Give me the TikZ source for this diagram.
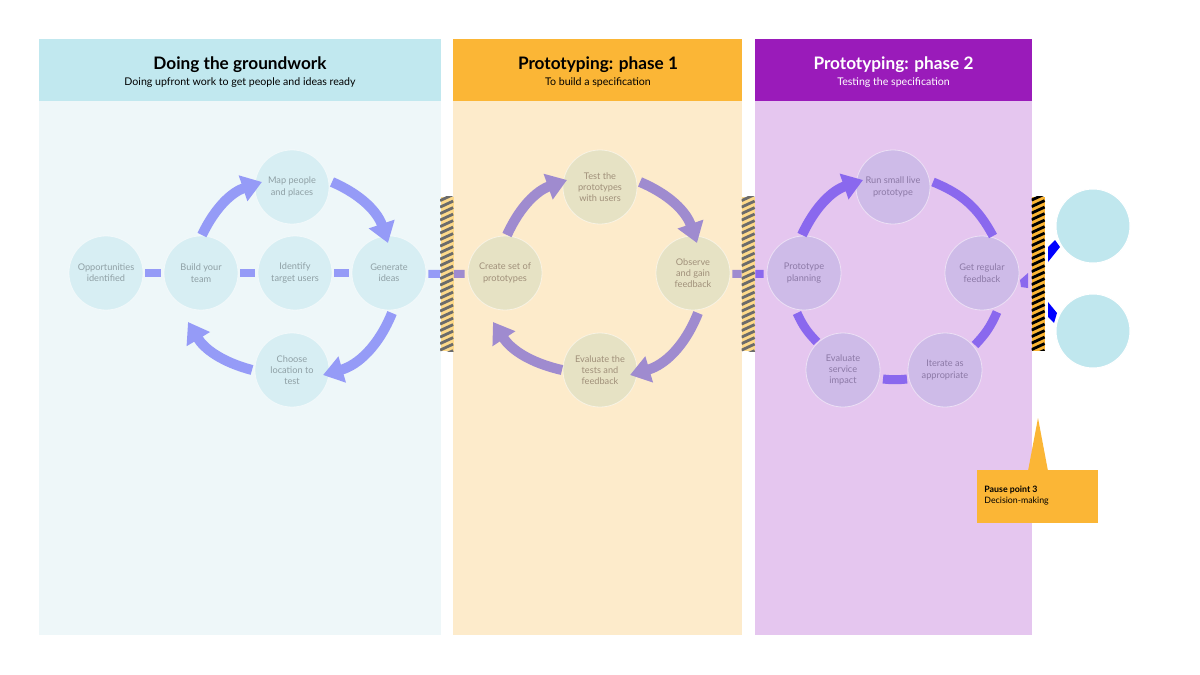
\documentclass[tikz,border=0pt]{standalone}
\usepackage{fontspec}
\setmainfont{Lato}
\usetikzlibrary{arrows.meta,calc}
\definecolor{hdA}{HTML}{C1E8EF}
\definecolor{bdA}{HTML}{EEF7F9}
\definecolor{ciA}{HTML}{D7EEF3}
\definecolor{txA}{HTML}{8FA0A5}
\definecolor{arA}{HTML}{959BF7}
\definecolor{hdB}{HTML}{FBB636}
\definecolor{bdB}{HTML}{FDEBCB}
\definecolor{ciB}{HTML}{E6E2C4}
\definecolor{txB}{HTML}{A0907A}
\definecolor{arB}{HTML}{9F8BCF}
\definecolor{hdC}{HTML}{9A1BBA}
\definecolor{bdC}{HTML}{E5C6EF}
\definecolor{ciC}{HTML}{CEBBE8}
\definecolor{txC}{HTML}{8C79A6}
\definecolor{arC}{HTML}{8A68EE}
\definecolor{hatchY}{HTML}{FDD98A}
\definecolor{hatchG}{HTML}{6B6B6B}
\definecolor{hatchO}{HTML}{FBB535}
\definecolor{rcirc}{HTML}{C0E7EE}
\definecolor{pureblue}{HTML}{0000FF}
\begin{document}
\begin{tikzpicture}[x=0.5pt,y=-0.5pt,
  circ/.style={circle, minimum size=37pt, inner sep=0pt, align=center, draw=white, draw opacity=0.5, line width=0.4pt, font=\fontsize{4.6}{5.65}\selectfont},
  cA/.style={circ, fill=ciA, text=txA},
  cB/.style={circ, fill=ciB, text=txB},
  cC/.style={circ, fill=ciC, text=txC},
  barline/.style={line width=4pt, shorten <=1pt, shorten >=1.5pt},
  arrline/.style={line width=5pt, -{Triangle[length=10pt,width=13pt]}},
  plainarc/.style={line width=4.5pt},
  title/.style={anchor=base, font=\fontsize{8.6}{10}\selectfont\bfseries},
  subtitle/.style={anchor=base, font=\fontsize{5.3}{6}\selectfont},
  hatchbox/.style={rectangle, inner sep=0pt, minimum width=6.5pt, minimum height=77pt},
]
\useasboundingbox (0,0) rectangle (1200,675);
\fill[white] (0,0) rectangle (1200,675);

% panels
\fill[bdA] (39,101) rectangle (441,635);
\fill[hdA] (39,39) rectangle (441,101);
\fill[bdB] (453,101) rectangle (742,635);
\fill[hdB] (453,39) rectangle (742,101);
\fill[bdC] (755,101) rectangle (1032,635);
\fill[hdC] (755,39) rectangle (1032,101);

\node[title] (tA) at (240,69) {Doing the groundwork};
\node[subtitle] (sA) at (240,85) {Doing upfront work to get people and ideas ready};
\node[title] (tB) at (598,69) {Prototyping: phase 1};
\node[subtitle] (sB) at (598,85) {To build a specification};
\node[title, text=white] (tC) at (893.5,69) {Prototyping: phase 2};
\node[subtitle, text=white] (sC) at (893.5,85) {Testing the specification};

% panel 1 circles
\node[cA] (opp) at (106,273) {Opportunities\\identified};
\node[cA] (build) at (201,273) {Build your\\team};
\node[cA] (ident) at (295,273) {Identify\\target users};
\node[cA] (gen) at (389,273) {Generate\\ideas};
\node[cA] (map) at (292,187) {Map people\\and places};
\node[cA] (choose) at (292,370) {Choose\\location to\\test};

% panel 2 circles
\node[cB] (create) at (505,273) {Create set of\\prototypes};
\node[cB] (test) at (600,187) {Test the\\prototypes\\with users};
\node[cB] (obs) at (693,273) {Observe\\and gain\\feedback};
\node[cB] (evalt) at (600,370) {Evaluate the\\tests and\\feedback};

% panel 3 circles
\node[cC] (plan) at (804,273) {Prototype\\planning};
\node[cC] (run) at (893,187) {Run small live\\prototype};
\node[cC] (getfb) at (982,273) {Get regular\\feedback};
\node[cC] (iter) at (945,370) {Iterate as\\appropriate};
\node[cC] (evals) at (843,370) {Evaluate\\service\\impact};

% hatched bars (nodes)
\node[hatchbox, fill=hatchY] (hA) at (447,274) {};
\node[hatchbox, fill=hatchY] (hB) at (748.5,274) {};
\node[hatchbox, fill=hatchO] (hC) at (1038.5,273.5) {};

% straight connectors
\draw[barline, arA] (opp) -- (build);
\draw[barline, arA] (build) -- (ident);
\draw[barline, arA] (ident) -- (gen);
\draw[barline, arA, shorten >=0pt] (gen) -- (hA.west);
\draw[barline, arB, shorten <=0pt] (hA.east) -- (create);
\draw[barline, arB, shorten >=0pt] (obs) -- (hB.west);
\draw[barline, arC, shorten <=0pt] (hB.east) -- (plan);

% hatching stripes
\foreach \bar/\sc in {hA/hatchG, hB/hatchG, hC/black}{
  \begin{scope}
    \clip (\bar.north west) rectangle (\bar.south east);
    \foreach \i in {-1,...,25}
      \draw[\sc, line width=1.4pt] ($(\bar.north west)+(0,\i*6.5+4)$) -- ++(13,-6);
  \end{scope}
}

% panel 1 loop arrows
\draw[arrline, arA] ($(build)+(1,-38)$) to[bend left=23] ($(map)+(-30,-5)$);
\draw[arrline, arA] ($(map)+(40,-5)$) to[bend left=24] ($(gen)+(-1,-30)$);
\draw[arrline, arA] ($(gen)+(3,40)$) to[bend left=26] ($(choose)+(31,5)$);
\draw[arrline, arA] ($(choose)+(-40,0)$) to[bend left=22] ($(build)+(-13,49)$);

% panel 2 loop arrows
\draw[arrline, arB] ($(create)+(2,-38)$) to[bend left=23] ($(test)+(-33,-7)$);
\draw[arrline, arB] ($(test)+(40,-5)$) to[bend left=24] ($(obs)+(4,-30)$);
\draw[arrline, arB] ($(obs)+(5,40)$) to[bend left=26] ($(evalt)+(30,5)$);
\draw[arrline, arB] ($(evalt)+(-38,0)$) to[bend left=22] ($(create)+(-12,49)$);

% panel 3 loop
\draw[arrline, arC] ($(plan)+(-2,-38)$) to[bend left=23] ($(run)+(-30,-7)$);
\draw[plainarc, arC] ($(run)+(40,-5)$) to[bend left=20] ($(getfb)+(11,-37)$);
\draw[plainarc, arC] ($(getfb)+(15,39)$) to[bend left=10] ($(iter)+(30,-25)$);
\draw[plainarc, arC] ($(iter)+(-38,9)$) to[bend left=6] ($(evals)+(40,9)$);
\draw[plainarc, arC] ($(evals)+(-26,-28)$) to[bend left=10] ($(plan)+(-7,40)$);
\fill[arC] (1020,280) -- (1028,273) -- (1028,288) -- (1021,287) -- cycle;

% right circles and blue heads
\node[circle, minimum size=37pt, inner sep=0pt, fill=rcirc, draw=white, line width=0.5pt] (rc1) at (1093,226) {};
\node[circle, minimum size=37pt, inner sep=0pt, fill=rcirc, draw=white, line width=0.5pt] (rc2) at (1093,331) {};
\fill[pureblue] (1048,247) -- (1055,240) -- (1060,247) -- (1048,262) -- cycle;
\fill[pureblue] (1048,302) -- (1057,313) -- (1054,323) -- (1048,317) -- cycle;

% pause callout
\fill[hdB] (977,470) rectangle (1098,523);
\fill[hdB] (1028,471) -- (1038,418) -- (1048,471) -- cycle;
\node[anchor=base west, inner sep=0pt, font=\fontsize{4.4}{5}\selectfont\bfseries] (pp) at (984,492) {Pause point 3};
\node[anchor=base west, inner sep=0pt, font=\fontsize{4.4}{5}\selectfont] (dm) at (984,503) {Decision-making};
\end{tikzpicture}
\end{document}
